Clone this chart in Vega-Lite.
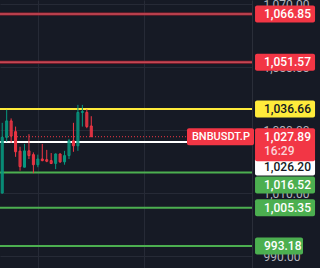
{
  "$schema": "https://vega.github.io/schema/vega-lite/v6.json",
  "width": 252,
  "height": 268,
  "autosize": {"type": "none"},
  "padding": {"left": 0, "top": 0, "right": 68, "bottom": 0},
  "background": "#161a25",
  "view": {"stroke": null},
  "config": {"font": "Roboto", "bar": {"opacity": 1}, "text": {"fontWeight": 500}},
  "datasets": {
    "candles": [
      {"i": 0, "open": 1010.0, "close": 1027.7, "high": 1032.3, "low": 1009.9},
      {"i": 1, "open": 1027.7, "close": 1032.9, "high": 1036.4, "low": 1026.3},
      {"i": 2, "open": 1032.9, "close": 1028.1, "high": 1033.7, "low": 1026.0},
      {"i": 3, "open": 1029.5, "close": 1023.1, "high": 1031.1, "low": 1021.5},
      {"i": 4, "open": 1023.3, "close": 1018.4, "high": 1024.7, "low": 1017.1},
      {"i": 5, "open": 1018.2, "close": 1023.4, "high": 1025.6, "low": 1018.2},
      {"i": 6, "open": 1023.4, "close": 1021.9, "high": 1028.7, "low": 1020.8},
      {"i": 7, "open": 1022.2, "close": 1019.0, "high": 1022.9, "low": 1016.3},
      {"i": 8, "open": 1019.0, "close": 1020.8, "high": 1022.2, "low": 1018.2},
      {"i": 9, "open": 1020.8, "close": 1020.3, "high": 1025.6, "low": 1020.1},
      {"i": 10, "open": 1020.6, "close": 1020.1, "high": 1023.7, "low": 1019.8},
      {"i": 11, "open": 1020.3, "close": 1019.4, "high": 1022.7, "low": 1019.2},
      {"i": 12, "open": 1019.4, "close": 1022.4, "high": 1022.6, "low": 1017.6},
      {"i": 13, "open": 1022.4, "close": 1019.9, "high": 1022.6, "low": 1019.6},
      {"i": 14, "open": 1019.9, "close": 1021.9, "high": 1023.4, "low": 1019.0},
      {"i": 15, "open": 1021.9, "close": 1026.6, "high": 1027.2, "low": 1020.8},
      {"i": 16, "open": 1026.6, "close": 1025.0, "high": 1032.3, "low": 1023.1},
      {"i": 17, "open": 1025.0, "close": 1035.6, "high": 1038.0, "low": 1023.4},
      {"i": 18, "open": 1035.6, "close": 1035.9, "high": 1038.0, "low": 1031.1},
      {"i": 19, "open": 1035.6, "close": 1031.1, "high": 1036.6, "low": 1030.6},
      {"i": 20, "open": 1031.3, "close": 1027.89, "high": 1034.4, "low": 1027.89}
    ],
    "levels": [
      {"price": 1066.85, "kind": "res"},
      {"price": 1051.57, "kind": "res"},
      {"price": 1036.66, "kind": "yellow"},
      {"price": 1026.20, "kind": "white"},
      {"price": 1016.52, "kind": "sup"},
      {"price": 1005.35, "kind": "sup"},
      {"price": 993.18, "kind": "sup"}
    ],
    "current": [{"price": 1027.89, "time": "16:29", "symbol": "BNBUSDT.P"}]
  },
  "layer": [
    {
      "data": {"name": "candles"},
      "mark": {"type": "rule", "strokeWidth": 1},
      "encoding": {
        "x": {"field": "i", "type": "quantitative", "scale": {"domain": [-0.5, 56.1], "nice": false, "zero": false, "padding": 0},
          "axis": {"values": [8.04, 31.85], "labels": false, "ticks": false, "domain": false, "title": null, "grid": true, "gridColor": "#262a36", "gridWidth": 1, "zindex": 0}},
        "y": {"field": "low", "type": "quantitative", "scale": {"domain": [986.2, 1071.3], "nice": false, "zero": false, "padding": 0},
          "axis": {"orient": "right", "values": [990, 1000, 1010, 1020, 1030, 1040, 1050, 1060, 1070], "format": ",.2f", "title": null,
            "labelAlign": "left", "labelBaseline": "middle", "labelPadding": 11, "ticks": false, "labelFont": "Roboto", "labelFontSize": 12,
            "labelColor": "#b2b5be", "labelOverlap": false, "labelBound": false, "domainColor": "#2a2e39", "grid": true, "gridColor": "#262a36", "gridWidth": 1, "zindex": 0}},
        "y2": {"field": "high"},
        "opacity": {"value": 0}
      }
    },
    {
      "data": {"name": "levels"},
      "transform": [{"filter": "datum.kind == 'res'"}],
      "mark": {"type": "rule", "strokeWidth": 3, "color": "#8e1e2c"},
      "encoding": {
        "y": {"field": "price", "type": "quantitative"}
      }
    },
    {
      "data": {"name": "levels"},
      "transform": [{"filter": "datum.kind == 'res'"}],
      "mark": {"type": "rule", "strokeWidth": 1, "color": "#e3616d"},
      "encoding": {
        "y": {"field": "price", "type": "quantitative"}
      }
    },
    {
      "data": {"name": "levels"},
      "transform": [{"filter": "datum.kind != 'res'"}],
      "mark": {"type": "rule", "strokeWidth": 2},
      "encoding": {
        "y": {"field": "price", "type": "quantitative"},
        "color": {"field": "kind", "type": "nominal", "scale": {"domain": ["yellow", "white", "sup", "res"], "range": ["#ffeb3b", "#ffffff", "#4caf50", "#f23645"]}, "legend": null}
      }
    },
    {
      "data": {"name": "current"},
      "mark": {"type": "rule", "strokeWidth": 1, "color": "#f23645", "strokeDash": [1, 2]},
      "encoding": {
        "y": {"field": "price", "type": "quantitative"}
      }
    },
    {
      "data": {"name": "candles"},
      "mark": {"type": "rule", "strokeWidth": 1},
      "encoding": {
        "x": {"field": "i", "type": "quantitative"},
        "y": {"field": "low", "type": "quantitative"},
        "y2": {"field": "high"},
        "color": {"condition": {"test": "datum.close >= datum.open", "value": "#089981"}, "value": "#f23645"}
      }
    },
    {
      "data": {"name": "candles"},
      "mark": {"type": "bar", "width": 2, "strokeWidth": 1, "fillOpacity": 0.45, "opacity": 1},
      "encoding": {
        "x": {"field": "i", "type": "quantitative"},
        "y": {"field": "open", "type": "quantitative"},
        "y2": {"field": "close"},
        "fill": {"condition": {"test": "datum.close >= datum.open", "value": "#089981"}, "value": "#f23645"},
        "stroke": {"condition": {"test": "datum.close >= datum.open", "value": "#089981"}, "value": "#f23645"}
      }
    },
    {
      "data": {"name": "current"},
      "mark": {"type": "bar", "height": 17, "color": "#f23645", "cornerRadius": 2, "opacity": 1},
      "encoding": {
        "x": {"datum": 41.5, "type": "quantitative"},
        "x2": {"datum": 56.55},
        "y": {"field": "price", "type": "quantitative"}
      }
    },
    {
      "data": {"name": "current"},
      "mark": {"type": "text", "align": "left", "baseline": "middle", "fontSize": 11, "fontWeight": 500, "color": "#ffffff"},
      "encoding": {
        "x": {"datum": 42.6, "type": "quantitative"},
        "y": {"field": "price", "type": "quantitative"},
        "text": {"field": "symbol"}
      }
    },
    {
      "data": {"name": "levels"},
      "transform": [{"filter": "datum.kind == 'white'"}],
      "layer": [
        {"mark": {"type": "bar", "height": 17, "color": "#ffffff", "cornerRadius": 2, "yOffset": 25, "opacity": 1}},
        {"mark": {"type": "text", "align": "left", "baseline": "middle", "fontSize": 12, "color": "#131722", "yOffset": 25, "dx": 9},
         "encoding": {"text": {"field": "price", "format": ",.2f"}}}
      ],
      "encoding": {
        "x": {"datum": 56.78, "type": "quantitative"},
        "x2": {"datum": 70.26},
        "y": {"field": "price", "type": "quantitative"}
      }
    },
    {
      "data": {"name": "current"},
      "layer": [
        {"mark": {"type": "bar", "height": 33, "color": "#f23645", "cornerRadius": 2, "yOffset": 8, "opacity": 1}},
        {"mark": {"type": "text", "align": "left", "baseline": "middle", "fontSize": 12, "color": "#ffffff", "dx": 9},
         "encoding": {"text": {"field": "price", "format": ",.2f"}}},
        {"mark": {"type": "text", "align": "left", "baseline": "middle", "fontSize": 12, "color": "#fbd3d7", "dx": 9, "yOffset": 14.5},
         "encoding": {"text": {"field": "time"}}}
      ],
      "encoding": {
        "x": {"datum": 56.78, "type": "quantitative"},
        "x2": {"datum": 70.26},
        "y": {"field": "price", "type": "quantitative"}
      }
    },
    {
      "data": {"name": "levels"},
      "transform": [{"filter": "datum.price > 1000 && datum.kind != 'white' && datum.price != 1016.52"}],
      "layer": [
        {"mark": {"type": "bar", "height": 17, "cornerRadius": 2, "opacity": 1},
         "encoding": {"color": {"field": "kind", "type": "nominal", "legend": null}}},
        {"mark": {"type": "text", "align": "left", "baseline": "middle", "fontSize": 12, "dx": 9},
         "encoding": {"text": {"field": "price", "format": ",.2f"},
           "color": {"condition": {"test": "datum.kind == 'yellow'", "value": "#131722"}, "value": "#ffffff"}}}
      ],
      "encoding": {
        "x": {"datum": 56.78, "type": "quantitative"},
        "x2": {"datum": 70.26},
        "y": {"field": "price", "type": "quantitative"}
      }
    },
    {
      "data": {"name": "levels"},
      "transform": [{"filter": "datum.price == 1016.52"}],
      "layer": [
        {"mark": {"type": "bar", "height": 17, "cornerRadius": 2, "color": "#4caf50", "yOffset": 12.6, "opacity": 1}},
        {"mark": {"type": "text", "align": "left", "baseline": "middle", "fontSize": 12, "dx": 9, "color": "#ffffff", "yOffset": 12.6},
         "encoding": {"text": {"field": "price", "format": ",.2f"}}}
      ],
      "encoding": {
        "x": {"datum": 56.78, "type": "quantitative"},
        "x2": {"datum": 70.26},
        "y": {"field": "price", "type": "quantitative"}
      }
    },
    {
      "data": {"name": "levels"},
      "transform": [{"filter": "datum.price < 1000"}],
      "layer": [
        {"mark": {"type": "bar", "height": 17, "cornerRadius": 2, "color": "#4caf50", "opacity": 1}},
        {"mark": {"type": "text", "align": "left", "baseline": "middle", "fontSize": 12, "dx": 9, "color": "#ffffff"},
         "encoding": {"text": {"field": "price", "format": ",.2f"}}}
      ],
      "encoding": {
        "x": {"datum": 56.78, "type": "quantitative"},
        "x2": {"datum": 67.56},
        "y": {"field": "price", "type": "quantitative"}
      }
    }
  ]
}
